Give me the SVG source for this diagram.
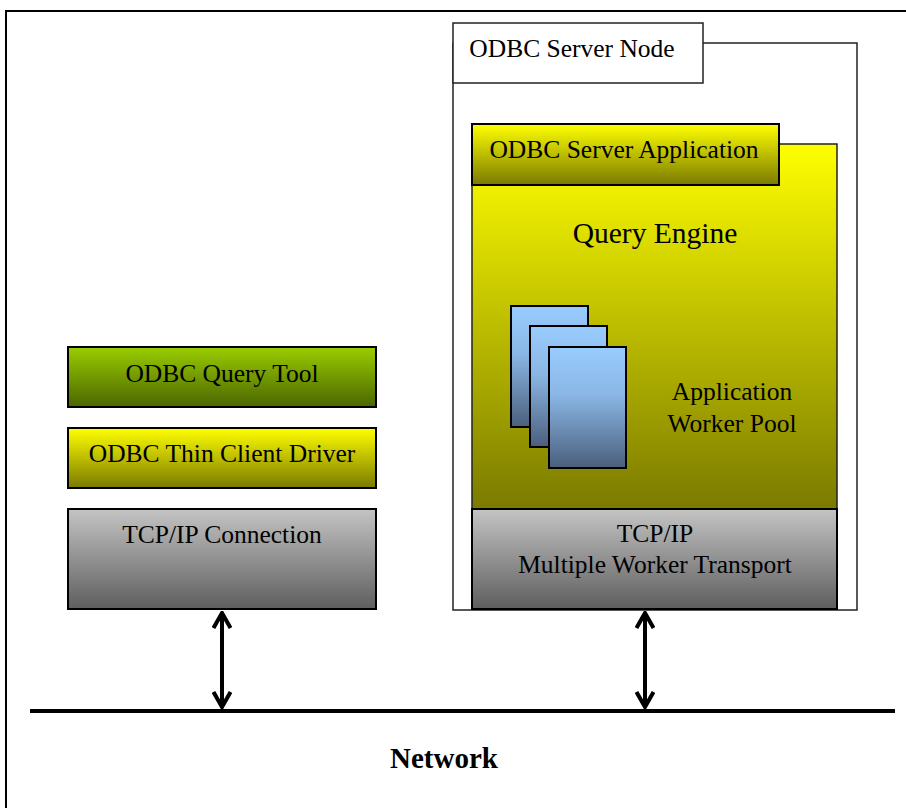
<svg xmlns="http://www.w3.org/2000/svg" width="906" height="808" viewBox="0 0 906 808">
<defs>
<style>
text{font-family:"Liberation Serif","Times New Roman",serif;fill:#000;text-anchor:middle}
.lbl{font-size:25.5px}
.box{stroke:#000;stroke-width:2}
.thin{stroke:#222;stroke-width:1.5}
.conn{stroke:#000;stroke-width:4;fill:none}
</style>
<linearGradient id="gGreen" x1="0" y1="0" x2="0" y2="1"><stop offset="0" stop-color="#9acd00"/><stop offset="1" stop-color="#4a6600"/></linearGradient>
<linearGradient id="gYellow" x1="0" y1="0" x2="0" y2="1"><stop offset="0" stop-color="#ffff00"/><stop offset="1" stop-color="#7a7a00"/></linearGradient>
<linearGradient id="gGray" x1="0" y1="0" x2="0" y2="1"><stop offset="0" stop-color="#c4c4c4"/><stop offset="1" stop-color="#5e5e5e"/></linearGradient>
<linearGradient id="gBlue" x1="0" y1="0" x2="0" y2="1"><stop offset="0" stop-color="#99ccff"/><stop offset="0.4" stop-color="#8ab6e4"/><stop offset="1" stop-color="#4a5f7c"/></linearGradient>
<marker id="head" viewBox="0 0 20 20" refX="18" refY="10" markerWidth="20" markerHeight="20" orient="auto-start-reverse" markerUnits="userSpaceOnUse">
<polyline points="3,1.5 18,10 3,18.5" fill="none" stroke="#000" stroke-width="4" stroke-linejoin="miter"/>
</marker>
</defs>
<rect width="906" height="808" fill="#fff"/>
<path d="M6,808 V11 H906" fill="none" stroke="#000" stroke-width="2"/>

<g id="server-node">
<rect x="453" y="43" width="404" height="567" fill="#fff" class="thin"/>
<rect x="453" y="23" width="250" height="60" fill="#fff" class="thin"/>
<text class="lbl" x="572" y="57">ODBC Server Node</text>
</g>

<g id="query-engine">
<rect x="472" y="144" width="365" height="366" fill="url(#gYellow)" class="thin"/>
<text x="655" y="243" style="font-size:29.5px">Query Engine</text>
</g>

<g id="server-application">
<rect x="472" y="124" width="307" height="61" fill="url(#gYellow)" class="box"/>
<text class="lbl" x="624" y="158">ODBC Server Application</text>
</g>

<g id="worker-pool">
<rect x="511" y="306" width="77" height="121" fill="url(#gBlue)" class="box"/>
<rect x="530" y="326" width="77" height="121" fill="url(#gBlue)" class="box"/>
<rect x="549" y="347" width="77" height="121" fill="url(#gBlue)" class="box"/>
<text class="lbl" x="732" y="400">Application</text>
<text class="lbl" x="732" y="432">Worker Pool</text>
</g>

<g id="server-transport">
<rect x="472" y="509" width="365" height="100" fill="url(#gGray)" class="box"/>
<text class="lbl" x="655" y="542">TCP/IP</text>
<text class="lbl" x="655" y="573">Multiple Worker Transport</text>
</g>

<g id="query-tool">
<rect x="68" y="347" width="308" height="60" fill="url(#gGreen)" class="box"/>
<text class="lbl" x="222" y="382">ODBC Query Tool</text>
</g>

<g id="thin-client-driver">
<rect x="68" y="428" width="308" height="60" fill="url(#gYellow)" class="box"/>
<text class="lbl" x="222" y="462">ODBC Thin Client Driver</text>
</g>

<g id="tcpip-connection">
<rect x="68" y="509" width="308" height="100" fill="url(#gGray)" class="box"/>
<text class="lbl" x="222" y="543">TCP/IP Connection</text>
</g>

<g id="network">
<line x1="30" y1="711" x2="895" y2="711" stroke="#000" stroke-width="4"/>
<text x="444" y="768" style="font-size:29px;font-weight:bold">Network</text>
</g>

<g id="connectors">
<line class="conn" x1="222" y1="613" x2="222" y2="707" marker-start="url(#head)" marker-end="url(#head)"/>
<line class="conn" x1="645" y1="613" x2="645" y2="707" marker-start="url(#head)" marker-end="url(#head)"/>
</g>
</svg>
